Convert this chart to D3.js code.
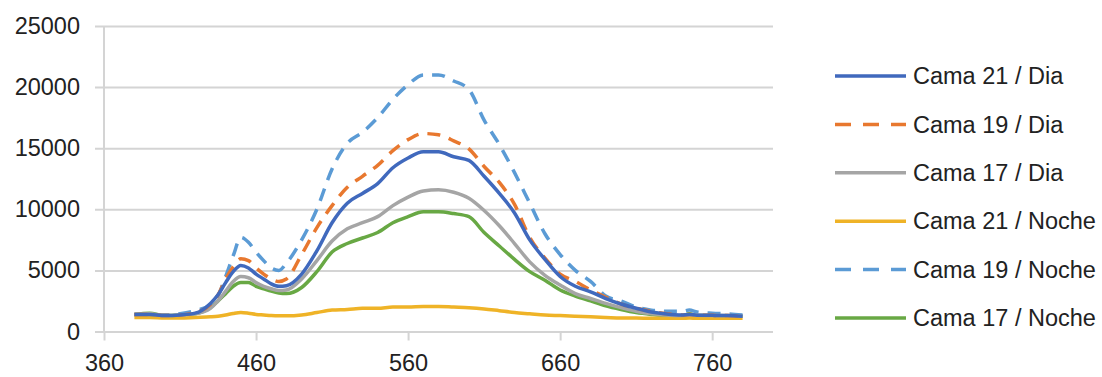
<!DOCTYPE html>
<html>
<head>
<meta charset="utf-8">
<script src="https://cdn.jsdelivr.net/npm/d3@7"></script>
<style>
  html, body { margin: 0; padding: 0; background: #fff; }
  svg { display: block; font-family: "Liberation Sans", Arial, sans-serif; }
</style>
</head>
<body>
<svg id="chart" width="1102" height="377"></svg>
<script>
// wavelength (nm)
const wavelengths = [380,390,400,410,420,430,435,440,445,450,455,460,465,470,475,480,490,500,510,520,530,540,550,560,570,580,590,600,610,620,630,640,650,660,670,680,690,700,710,720,730,740,745,750,760,770,780];

const cama21Dia = [1400,1400,1300,1350,1500,2300,3000,4000,4900,5400,5200,4700,4300,3900,3700,3750,4700,6600,8900,10500,11300,12100,13400,14200,14700,14700,14300,14000,12700,11300,9700,7500,5900,4500,3700,3250,2700,2250,1900,1600,1430,1350,1400,1330,1320,1300,1250];
const cama19Dia = [1400,1400,1300,1350,1550,2200,3000,4300,5300,5950,5800,5200,4700,4300,4100,4300,6300,8500,10300,11800,12700,13600,14800,15700,16200,16100,15600,14950,13500,12200,10400,7700,6000,4700,4100,3400,2800,2250,1900,1650,1450,1350,1400,1330,1320,1300,1250];
const cama17Dia = [1400,1450,1300,1350,1450,1900,2500,3300,4100,4500,4400,4000,3700,3500,3350,3400,4300,5800,7400,8400,8900,9400,10300,11000,11500,11600,11400,10900,9900,8650,7200,5700,4600,3800,3100,2700,2300,1950,1650,1450,1350,1300,1400,1320,1300,1300,1250];
const cama21Noche = [1150,1150,1100,1100,1150,1200,1250,1350,1480,1560,1500,1400,1350,1300,1280,1280,1350,1550,1750,1800,1900,1900,2000,2000,2050,2050,2000,1950,1850,1700,1550,1450,1350,1300,1250,1200,1150,1100,1100,1080,1080,1080,1100,1080,1080,1080,1080];
const cama19Noche = [1400,1400,1350,1450,1700,2200,2900,4500,6200,7700,7300,6500,5800,5200,5000,5600,7500,10000,13300,15400,16300,17500,19000,20200,21000,21000,20500,19800,17300,15300,13000,10500,8000,6300,5000,4100,2900,2500,2000,1750,1650,1650,1750,1600,1500,1450,1350];
const cama17Noche = [1400,1500,1300,1350,1450,1950,2500,3100,3700,4000,4000,3700,3500,3300,3150,3100,3600,4900,6500,7200,7650,8100,8900,9400,9800,9800,9650,9400,8100,7000,5900,4900,4200,3400,2900,2500,2100,1800,1550,1400,1300,1280,1450,1300,1300,1280,1250];

const seriesNames = ["Cama 21 / Dia", "Cama 19 / Dia", "Cama 17 / Dia", "Cama 21 / Noche", "Cama 19 / Noche", "Cama 17 / Noche"];
const seriesValues = [cama21Dia, cama19Dia, cama17Dia, cama21Noche, cama19Noche, cama17Noche];
const seriesColors = ["#4069bd", "#e8782f", "#a5a5a5", "#efb327", "#5b9bd5", "#68a844"];
const seriesDashed = [false, true, false, false, true, false];

const xTicks = [360, 460, 560, 660, 760];
const yTicks = [0, 5000, 10000, 15000, 20000, 25000];

const svg = d3.select("#chart");

const x = d3.scaleLinear().domain([360, 800]).range([104, 773]);
const y = d3.scaleLinear().domain([0, 25000]).range([331.5, 26]);

// gridlines
svg.append("g")
  .attr("transform", "translate(95,0)")
  .call(d3.axisRight(y).tickValues(yTicks).tickSize(773 - 95).tickFormat(""))
  .call((g) => g.select(".domain").remove())
  .call((g) => g.selectAll("line").attr("stroke", "#d4d4d4").attr("stroke-width", 2));

// y labels
svg.append("g")
  .attr("transform", "translate(95,0)")
  .call(d3.axisLeft(y).tickValues(yTicks).tickSize(0).tickPadding(15).tickFormat(d3.format("d")))
  .call((g) => g.select(".domain").remove())
  .call((g) => g.selectAll("text")
    .attr("font-size", 23.5)
    .attr("font-family", "Liberation Sans, Arial, sans-serif")
    .attr("fill", "#222"));

// left axis line
svg.append("line")
  .attr("x1", x(360)).attr("x2", x(360))
  .attr("y1", y(25000)).attr("y2", y(0))
  .attr("stroke", "#d4d4d4").attr("stroke-width", 2);

// x axis
svg.append("g")
  .attr("transform", `translate(0,${y(0)})`)
  .call(d3.axisBottom(x).tickValues(xTicks).tickSize(9).tickPadding(14).tickFormat(d3.format("d")))
  .call((g) => g.select(".domain").remove())
  .call((g) => g.selectAll("line").attr("stroke", "#d4d4d4").attr("stroke-width", 2))
  .call((g) => g.selectAll("text")
    .attr("font-size", 23.5)
    .attr("font-family", "Liberation Sans, Arial, sans-serif")
    .attr("fill", "#222"));

const line = d3.line()
  .x((d) => x(d[0]))
  .y((d) => y(d[1]))
  .curve(d3.curveMonotoneX);

const series = seriesNames.map((name, i) => ({
  name,
  color: seriesColors[i],
  dashed: seriesDashed[i],
  points: wavelengths.map((w, j) => [w, seriesValues[i][j]]),
}));

// draw in reverse so first series is on top like Excel
svg.append("g")
  .selectAll("path")
  .data(series.slice().reverse())
  .join("path")
  .attr("d", (d) => line(d.points))
  .attr("fill", "none")
  .attr("stroke", (d) => d.color)
  .attr("stroke-width", 3.5)
  .attr("stroke-linejoin", "round")
  .attr("stroke-dasharray", (d) => (d.dashed ? "13 9" : null));

// legend
const legend = svg.append("g")
  .selectAll("g")
  .data(series)
  .join("g")
  .attr("transform", (d, i) => `translate(835,${76 + i * 48.4})`);

legend.append("line")
  .attr("x1", 0).attr("x2", 71)
  .attr("stroke", (d) => d.color)
  .attr("stroke-width", 3.5)
  .attr("stroke-dasharray", (d) => (d.dashed ? "16 12" : null));

legend.append("text")
  .attr("x", 78)
  .attr("dy", "0.35em")
  .attr("font-size", 23.5)
  .attr("fill", "#222")
  .text((d) => d.name);
</script>
</body>
</html>
